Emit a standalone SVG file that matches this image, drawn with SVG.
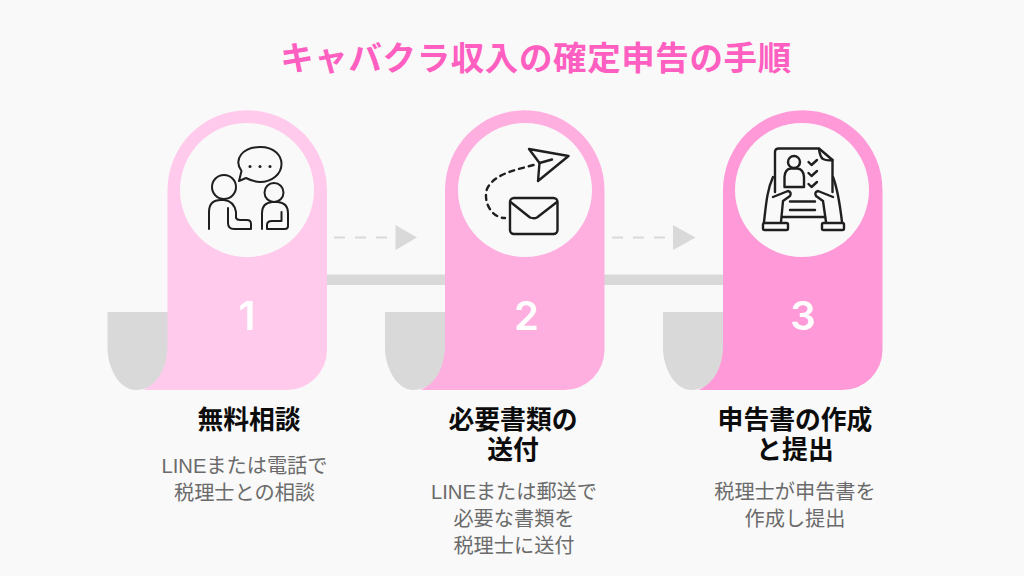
<svg xmlns="http://www.w3.org/2000/svg" width="1024" height="576" viewBox="0 0 1024 576">
<style>
text{font-family:"Liberation Sans","Noto Sans CJK JP",sans-serif;text-anchor:middle}
.title{font-size:33.500px;font-weight:700;fill:#ff5fc0;letter-spacing:.6px}
.num{font-family:Inter,"Noto Sans",sans-serif;font-size:40px;font-weight:600;fill:#fff}
.head{font-size:25.800px;font-weight:700;fill:#0c0c0c}
.body{font-size:20.200px;fill:#6b6b6b}
.hole{fill:#f9f9f9}
.curl{fill:#d9d9d9}
.ic{fill:none;stroke:#1f1f1f;stroke-width:2;stroke-linecap:round;stroke-linejoin:round}
.ic2{stroke-width:2.400}
.dash{stroke:#d9d9d9;stroke-width:2;stroke-dasharray:11 10;fill:none}
.bar{fill:#d9d9d9}
.tip{fill:#d9d9d9}
</style>
<defs>
<path id="card" d="M0 80A79.750 79.750 0 0 1 159.500 80V240A40 40 0 0 1 119.500 280H-24.500C-10 274 0 258 0 235Z"/>
<path id="curlshape" d="M-60 202H1V237C1 260-10 280-32 280C-48 280-60 258-60 238Z"/>
</defs>
<rect width="1024" height="576" fill="#f9f9f9"/>
<text class="title" x="536" y="70">キャバクラ収入の確定申告の手順</text>
<g id="connectors">
<rect class="bar" x="320" y="274.500" width="410" height="10.500"/>
<path class="dash" d="M334 237.500H387"/>
<path class="tip" d="M395.500 225V250L417 237.500Z"/>
<path class="dash" d="M612 237.500H665"/>
<path class="tip" d="M673 225V250L695.500 237.500Z"/>
</g>
<g id="step1">
<use href="#curlshape" class="curl" x="167.500" y="110"/>
<use href="#card" x="167.500" y="110" fill="#ffcaec"/>
<circle class="hole" cx="247" cy="190" r="67"/>
<g class="ic">
<circle cx="224" cy="187" r="12"/>
<path d="M209 229V212Q209 200 221 200H224Q234 201 236 212V218Q237 220 240 220H247Q251 220 251 224V229H234Q228 229 228 223V208"/>
<path d="M239 181L241.500 171C233 159 243 147 260 147C275 147 281.500 156 281.500 164C281.500 174 272 182 260 182C255 182 250 180 246 178Z"/>
<circle cx="274" cy="192.500" r="9.500"/>
<path d="M262 229V213Q262 203 272 202H278Q288 203 288 213V226Q288 229 285 229H267V225Q267 221 272 221H281.500V212"/>
</g>
<g fill="#1f1f1f"><circle cx="250" cy="166.500" r="1.500"/><circle cx="260" cy="166.500" r="1.500"/><circle cx="270" cy="166.500" r="1.500"/></g>
<text class="num" x="247" y="330">1</text>
<text class="head" x="249" y="429">無料相談</text>
<text class="body" x="244.500" y="473">LINEまたは電話で</text>
<text class="body" x="244.500" y="500">税理士との相談</text>
</g>
<g id="step2">
<use href="#curlshape" class="curl" x="445" y="110"/>
<use href="#card" x="445" y="110" fill="#ffaee0"/>
<circle class="hole" cx="525" cy="190" r="67"/>
<g class="ic ic2">
<rect x="510" y="198" width="47.500" height="36" rx="4"/>
<path d="M510.500 202L530 217.500Q534 219 537 217.500L557 202"/>
<path d="M529 149L568.500 156L538 181L539.500 163Z"/>
<path d="M539.500 163L552 159.500"/>
<path d="M533.500 165C515 170 494 174 487 189C483 201 491 218 505 218" stroke-dasharray="5 5"/>
</g>
<text class="num" x="526.500" y="330">2</text>
<text class="head" x="513" y="429">必要書類の</text>
<text class="head" x="513" y="459">送付</text>
<text class="body" x="514" y="499">LINEまたは郵送で</text>
<text class="body" x="514" y="526">必要な書類を</text>
<text class="body" x="514" y="553">税理士に送付</text>
</g>
<g id="step3">
<use href="#curlshape" class="curl" x="723" y="110"/>
<use href="#card" x="723" y="110" fill="#ff99d8"/>
<circle class="hole" cx="802" cy="190" r="67"/>
<g class="ic ic2">
<path d="M775 192V152Q775 148.500 779 148.500H819L832.500 160V192"/>
<path d="M819 149Q820 157 823 159Q827 161 832.500 160"/>
<path d="M782 217H825"/>
<circle cx="794" cy="162" r="6"/>
<path d="M784.500 187V177Q785 169 791 168.500H797Q803.500 169 804 177V187Z"/>
<path d="M808.500 162L811.500 165L817 160M808.500 173L811.500 176L817 171M808.500 184L811.500 187L817 182"/>
<path d="M790 201.500H815M790 210H815"/>
<path d="M773 177C767 190 766 205 764 222M773 197L788 191Q792 192 790 196L783 201L781 222"/>
<path d="M833 177C838 190 840 205 842 222M833 197L818 191Q814 192 816 196L823 201L826 222"/>
<rect x="763" y="223" width="25" height="7" rx="1.500"/>
<rect x="822" y="223" width="22" height="7" rx="1.500"/>
</g>
<text class="num" x="803" y="330">3</text>
<text class="head" x="795" y="429">申告書の作成</text>
<text class="head" x="795" y="459">と提出</text>
<text class="body" x="795" y="499">税理士が申告書を</text>
<text class="body" x="795" y="526">作成し提出</text>
</g>
</svg>
